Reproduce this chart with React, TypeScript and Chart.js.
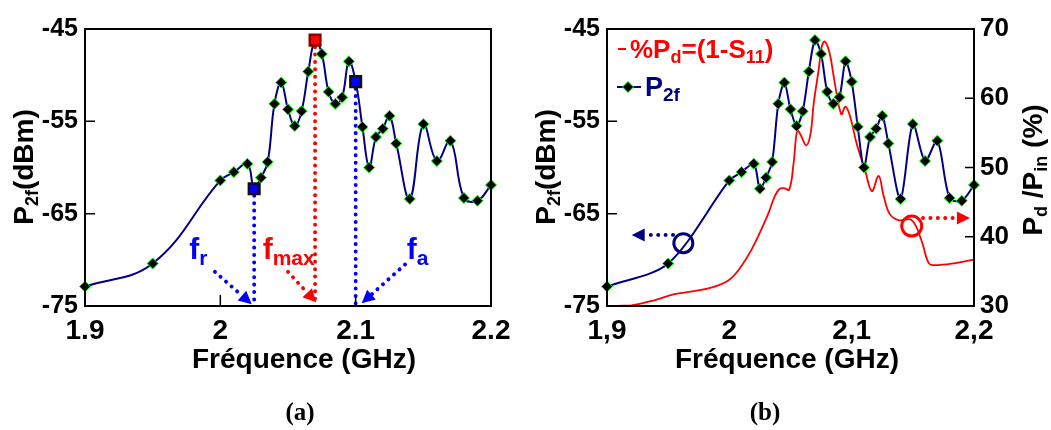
import React, { useEffect, useRef } from 'react';
import { Chart, registerables } from 'chart.js';
Chart.register(...registerables);

const FONT = '"Liberation Sans", Arial, sans-serif';
const SERIF = '"Liberation Serif", "Times New Roman", serif';

// ---------- data ----------
const freqGHz = [1.9, 1.95, 2.0, 2.01, 2.02, 2.025, 2.03, 2.035, 2.04, 2.045, 2.05, 2.055, 2.06, 2.065, 2.07, 2.075, 2.08, 2.085, 2.09, 2.095, 2.1, 2.105, 2.11, 2.115, 2.12, 2.125, 2.13, 2.14, 2.15, 2.16, 2.17, 2.18, 2.19, 2.2];
const p2fDbm = [-72.9, -70.4, -61.4, -60.5, -59.6, -62.3, -61.1, -59.4, -53.1, -50.8, -53.7, -55.5, -53.9, -49.6, -46.2, -47.7, -51.8, -53.1, -52.4, -48.5, -50.7, -55.6, -60.0, -56.7, -55.8, -54.4, -57.4, -63.4, -55.3, -59.3, -57.1, -63.3, -63.6, -61.9];

const pdFreqGHz = [1.9, 1.92, 1.94, 1.955, 1.97, 1.988, 2.0, 2.008, 2.018, 2.026, 2.032, 2.037, 2.041, 2.045, 2.049, 2.0525, 2.0555, 2.058, 2.063, 2.0665, 2.069, 2.073, 2.0755, 2.078, 2.082, 2.086, 2.0915, 2.095, 2.099, 2.104, 2.111, 2.1165, 2.122, 2.126, 2.131, 2.138, 2.149, 2.157, 2.163, 2.168, 2.185, 2.2];
const pdPercent = [30.0, 30.1, 30.9, 31.7, 32.1, 32.8, 33.8, 35.3, 38.1, 41.0, 43.4, 45.8, 46.9, 47.0, 46.8, 50.6, 55.4, 54.8, 53.2, 55.0, 59.3, 64.1, 67.4, 68.2, 66.5, 62.4, 57.7, 58.8, 57.2, 53.5, 49.6, 46.6, 48.8, 46.0, 43.3, 42.4, 42.4, 39.5, 36.2, 35.9, 36.2, 36.7];

const xTickValues = [1.9, 2.0, 2.1, 2.2];
const xTickLabelsA = ['1.9', '2', '2.1', '2.2'];
const xTickLabelsB = ['1,9', '2', '2,1', '2,2'];
const p2fTickValues = [-75, -65, -55, -45];
const pdTickValues = [30, 40, 50, 60, 70];

const fR = 2.025;
const fMax = 2.07;
const fA = 2.1;

const NAVY = '#000080';
const BLUE = '#0000ff';
const RED = '#ff0000';

// ---------- helpers ----------
type Part = { t: string; sub?: boolean };

function setFont(ctx: CanvasRenderingContext2D, size: number) {
  ctx.font = `bold ${size}px ${FONT}`;
}
function richWidth(ctx: CanvasRenderingContext2D, parts: Part[], size: number, subSize: number) {
  let w = 0;
  for (const p of parts) {
    setFont(ctx, p.sub ? subSize : size);
    w += ctx.measureText(p.t).width;
  }
  return w;
}
function drawRich(ctx: CanvasRenderingContext2D, parts: Part[], x: number, y: number, size: number, subSize: number, subDy: number, color: string, align: 'left' | 'center' = 'left') {
  const w = richWidth(ctx, parts, size, subSize);
  let cx = align === 'center' ? x - w / 2 : x;
  ctx.save();
  ctx.fillStyle = color;
  ctx.textAlign = 'left';
  ctx.textBaseline = 'alphabetic';
  for (const p of parts) {
    setFont(ctx, p.sub ? subSize : size);
    ctx.fillText(p.t, cx, p.sub ? y + subDy : y);
    cx += ctx.measureText(p.t).width;
  }
  ctx.restore();
}
function drawRichRotated(ctx: CanvasRenderingContext2D, parts: Part[], bx: number, cy: number, size: number, subSize: number, subDy: number, color: string) {
  ctx.save();
  ctx.translate(bx, cy);
  ctx.rotate(-Math.PI / 2);
  drawRich(ctx, parts, 0, 0, size, subSize, subDy, color, 'center');
  ctx.restore();
}
function dottedLine(ctx: CanvasRenderingContext2D, x1: number, y1: number, x2: number, y2: number, color: string, width = 3.9, gap = 7.3) {
  ctx.save();
  ctx.strokeStyle = color;
  ctx.lineWidth = width;
  ctx.lineCap = 'round';
  ctx.setLineDash([0.1, gap]);
  ctx.beginPath();
  ctx.moveTo(x1, y1);
  ctx.lineTo(x2, y2);
  ctx.stroke();
  ctx.restore();
}
function dottedArrow(ctx: CanvasRenderingContext2D, x1: number, y1: number, x2: number, y2: number, color: string) {
  const a = Math.atan2(y2 - y1, x2 - x1);
  const len = 13, half = 6.5;
  dottedLine(ctx, x1, y1, x2 - (len - 1) * Math.cos(a), y2 - (len - 1) * Math.sin(a), color);
  ctx.save();
  ctx.fillStyle = color;
  ctx.beginPath();
  ctx.moveTo(x2, y2);
  ctx.lineTo(x2 - len * Math.cos(a) + half * Math.sin(a), y2 - len * Math.sin(a) - half * Math.cos(a));
  ctx.lineTo(x2 - len * Math.cos(a) - half * Math.sin(a), y2 - len * Math.sin(a) + half * Math.cos(a));
  ctx.closePath();
  ctx.fill();
  ctx.restore();
}
function frameAndTicks(chart: any, leftTicks: number[], rightTicks: number[] | null, bottomTicks: number[]) {
  const { ctx, chartArea } = chart;
  const { left, right, top, bottom } = chartArea;
  ctx.save();
  ctx.strokeStyle = '#000';
  ctx.lineWidth = 2;
  ctx.strokeRect(left, top, right - left, bottom - top);
  ctx.lineWidth = 1.5;
  ctx.beginPath();
  const y = chart.scales.y;
  for (const v of leftTicks) {
    const py = y.getPixelForValue(v);
    if (Math.abs(py - top) < 2 || Math.abs(py - bottom) < 2) continue;
    ctx.moveTo(left, py);
    ctx.lineTo(left + 10, py);
  }
  if (rightTicks) {
    const y1 = chart.scales.y1;
    for (const v of rightTicks) {
      const py = y1.getPixelForValue(v);
      if (Math.abs(py - top) < 2 || Math.abs(py - bottom) < 2) continue;
      ctx.moveTo(right, py);
      ctx.lineTo(right - 9, py);
    }
  }
  const x = chart.scales.x;
  for (const v of bottomTicks) {
    const px = x.getPixelForValue(v);
    if (Math.abs(px - left) < 2 || Math.abs(px - right) < 2) continue;
    ctx.moveTo(px, bottom);
    ctx.lineTo(px, bottom - 11);
  }
  ctx.stroke();
  ctx.restore();
}

const tickFont = (size: number) => ({ family: FONT, size, weight: 'bold' as const });
const labelFor = (labels: string[]) => (v: any) => {
  const i = xTickValues.findIndex((t) => Math.abs(t - Number(v)) < 1e-9);
  return i >= 0 ? labels[i] : '';
};

const isSpecial = (f: number) => f === fR || f === fMax || f === fA;

function panelLabel(ctx: CanvasRenderingContext2D, text: string, x: number) {
  ctx.save();
  ctx.font = `bold 25px ${SERIF}`;
  ctx.fillStyle = '#000';
  ctx.textAlign = 'center';
  ctx.textBaseline = 'alphabetic';
  ctx.fillText(text, x, 420);
  ctx.restore();
}

// ---------- Panel A ----------
const panelAPlugin = {
  id: 'panelA',
  beforeDatasetsDraw(chart: any) {
    const { ctx, chartArea } = chart;
    const x = chart.scales.x, y = chart.scales.y;
    for (const f of [fR, fMax, fA]) {
      const i = freqGHz.indexOf(f);
      const px = x.getPixelForValue(f);
      dottedLine(ctx, px, y.getPixelForValue(p2fDbm[i]) + 7, px, chartArea.bottom, f === fMax ? RED : BLUE);
    }
  },
  afterDraw(chart: any) {
    const { ctx } = chart;
    const x = chart.scales.x, y = chart.scales.y;
    frameAndTicks(chart, p2fTickValues, null, xTickValues);
    drawRich(ctx, [{ t: 'Fréquence (GHz)' }], 304, 368, 28, 18, 5, '#000', 'center');
    drawRichRotated(ctx, [{ t: 'P' }, { t: '2f', sub: true }, { t: '(dBm)' }], 33, 167, 28, 18, 5, '#000');
    panelLabel(ctx, '(a)', 300);
    const X = (f: number) => x.getPixelForValue(f);
    const Y = (v: number) => y.getPixelForValue(v);
    drawRich(ctx, [{ t: 'f' }, { t: 'r', sub: true }], X(1.977), Y(-69.9), 30, 21, 6, BLUE);
    drawRich(ctx, [{ t: 'f' }, { t: 'max', sub: true }], X(2.0313), Y(-69.9), 30, 21, 6, RED);
    drawRich(ctx, [{ t: 'f' }, { t: 'a', sub: true }], X(2.1378), Y(-69.9), 30, 21, 6, BLUE);
    dottedArrow(ctx, X(1.996), Y(-71.3), X(2.0232), Y(-74.8), BLUE);
    dottedArrow(ctx, X(2.05), Y(-71.3), X(2.0707), Y(-74.6), RED);
    dottedArrow(ctx, X(2.1365), Y(-70.5), X(2.1045), Y(-74.7), BLUE);
  },
};

function PanelA() {
  const ref = useRef<HTMLCanvasElement>(null);
  useEffect(() => {
    const chart = new Chart(ref.current as HTMLCanvasElement, {
      type: 'line',
      data: {
        datasets: [
          {
            data: freqGHz.map((f, i) => ({ x: f, y: p2fDbm[i] })),
            borderColor: NAVY,
            borderWidth: 2,
            tension: 0.4,
            clip: false as any,
            pointStyle: (c: any) => (isSpecial(freqGHz[c.dataIndex]) ? 'rect' : 'rectRot'),
            pointRadius: (c: any) => (isSpecial(freqGHz[c.dataIndex]) ? 7.5 : 5.5),
            pointBackgroundColor: (c: any) => {
              const f = freqGHz[c.dataIndex];
              return f === fMax ? RED : f === fR || f === fA ? BLUE : '#000';
            },
            pointBorderColor: (c: any) => {
              const f = freqGHz[c.dataIndex];
              return f === fMax ? '#8b0000' : isSpecial(f) ? '#111' : '#00ff00';
            },
            pointBorderWidth: (c: any) => (isSpecial(freqGHz[c.dataIndex]) ? 2.5 : 1),
          } as any,
        ],
      },
      options: {
        responsive: false,
        animation: false,
        events: [],
        layout: { padding: { left: 0, top: 29, right: 29, bottom: 84 } },
        plugins: { legend: { display: false }, tooltip: { enabled: false } },
        scales: {
          x: {
            type: 'linear',
            min: 1.9,
            max: 2.2,
            afterBuildTicks: (s: any) => { s.ticks = xTickValues.map((v) => ({ value: v })); },
            afterFit: (s: any) => { s.height = 40; },
            ticks: { callback: labelFor(xTickLabelsA), font: tickFont(28), color: '#000', padding: 8, maxRotation: 0, autoSkip: false },
            grid: { display: false, drawTicks: false },
            border: { display: false },
          },
          y: {
            type: 'linear',
            min: -75,
            max: -45,
            afterBuildTicks: (s: any) => { s.ticks = p2fTickValues.map((v) => ({ value: v })); },
            afterFit: (s: any) => { s.width = 85; },
            ticks: { font: tickFont(25), color: '#000', padding: 7 },
            grid: { display: false, drawTicks: false },
            border: { display: false },
          },
        },
      } as any,
      plugins: [panelAPlugin],
    });
    return () => chart.destroy();
  }, []);
  return <canvas ref={ref} width={520} height={430} style={{ position: 'absolute', left: 0, top: 0, width: 520, height: 430 }} />;
}

// ---------- Panel B ----------
const panelBPlugin = {
  id: 'panelB',
  afterDraw(chart: any) {
    const { ctx, chartArea } = chart;
    const x = chart.scales.x, y = chart.scales.y, y1 = chart.scales.y1;
    frameAndTicks(chart, p2fTickValues, pdTickValues, []);
    drawRich(ctx, [{ t: 'Fréquence (GHz)' }], 267, 368, 28, 18, 5, '#000', 'center');
    drawRichRotated(ctx, [{ t: 'P' }, { t: '2f', sub: true }, { t: '(dBm)' }], 35, 167, 28, 18, 5, '#000');
    drawRichRotated(ctx, [{ t: 'P' }, { t: 'd', sub: true }, { t: ' /P' }, { t: 'in', sub: true }, { t: ' (%)' }], 522, 170, 28, 18, 5, '#000');
    panelLabel(ctx, '(b)', 245);

    // legend
    const L = chartArea.left;
    ctx.save();
    ctx.strokeStyle = RED;
    ctx.lineWidth = 2;
    ctx.beginPath();
    ctx.moveTo(L + 11, 49);
    ctx.lineTo(L + 19, 49);
    ctx.stroke();
    ctx.strokeStyle = NAVY;
    ctx.beginPath();
    ctx.moveTo(L + 10, 87);
    ctx.lineTo(L + 34, 87);
    ctx.stroke();
    ctx.fillStyle = '#000';
    ctx.strokeStyle = '#00ff00';
    ctx.lineWidth = 1;
    ctx.beginPath();
    const dx = L + 21, dy = 87, r = 5.5;
    ctx.moveTo(dx, dy - r); ctx.lineTo(dx + r, dy); ctx.lineTo(dx, dy + r); ctx.lineTo(dx - r, dy); ctx.closePath();
    ctx.fill(); ctx.stroke();
    ctx.restore();
    drawRich(ctx, [{ t: '%P' }, { t: 'd', sub: true }, { t: '=(1-S' }, { t: '11', sub: true }, { t: ')' }], L + 23, 58, 26, 18, 5, RED);
    drawRich(ctx, [{ t: 'P' }, { t: '2f', sub: true }], L + 38, 96, 27, 19, 5, NAVY);

    // axis indicators
    const X = (f: number) => x.getPixelForValue(f);
    ctx.save();
    ctx.lineWidth = 3;
    ctx.strokeStyle = NAVY;
    ctx.beginPath();
    ctx.arc(X(1.9624), y.getPixelForValue(-68.2), 9.5, 0, Math.PI * 2);
    ctx.stroke();
    ctx.strokeStyle = RED;
    ctx.beginPath();
    ctx.arc(X(2.1491), y1.getPixelForValue(41.55), 10, 0, Math.PI * 2);
    ctx.stroke();
    ctx.restore();
    dottedArrow(ctx, X(1.954), y.getPixelForValue(-67.3), X(1.9202), y.getPixelForValue(-67.3), NAVY);
    dottedArrow(ctx, X(2.1583), y1.getPixelForValue(42.7), X(2.1967), y1.getPixelForValue(42.7), RED);
  },
};

function PanelB() {
  const ref = useRef<HTMLCanvasElement>(null);
  useEffect(() => {
    const chart = new Chart(ref.current as HTMLCanvasElement, {
      type: 'line',
      data: {
        datasets: [
          {
            data: freqGHz.map((f, i) => ({ x: f, y: p2fDbm[i] })),
            yAxisID: 'y',
            borderColor: NAVY,
            borderWidth: 2,
            tension: 0.3,
            clip: false as any,
            pointStyle: 'rectRot',
            pointRadius: 5.5,
            pointBackgroundColor: '#000',
            pointBorderColor: '#00ff00',
            pointBorderWidth: 1,
          } as any,
          {
            data: pdFreqGHz.map((f, i) => ({ x: f, y: pdPercent[i] })),
            yAxisID: 'y1',
            borderColor: RED,
            borderWidth: 1.8,
            tension: 0.4,
            pointRadius: 0,
          } as any,
        ],
      },
      options: {
        responsive: false,
        animation: false,
        events: [],
        layout: { padding: { left: 0, top: 29, right: 0, bottom: 84 } },
        plugins: { legend: { display: false }, tooltip: { enabled: false } },
        scales: {
          x: {
            type: 'linear',
            min: 1.9,
            max: 2.2,
            afterBuildTicks: (s: any) => { s.ticks = xTickValues.map((v) => ({ value: v })); },
            afterFit: (s: any) => { s.height = 40; },
            ticks: { callback: labelFor(xTickLabelsB), font: tickFont(28), color: '#000', padding: 8, maxRotation: 0, autoSkip: false },
            grid: { display: false, drawTicks: false },
            border: { display: false },
          },
          y: {
            type: 'linear',
            position: 'left',
            min: -75,
            max: -45,
            afterBuildTicks: (s: any) => { s.ticks = p2fTickValues.map((v) => ({ value: v })); },
            afterFit: (s: any) => { s.width = 87; },
            ticks: { font: tickFont(25), color: '#000', padding: 7 },
            grid: { display: false, drawTicks: false },
            border: { display: false },
          },
          y1: {
            type: 'linear',
            position: 'right',
            min: 30,
            max: 70,
            afterBuildTicks: (s: any) => { s.ticks = pdTickValues.map((v) => ({ value: v })); },
            afterFit: (s: any) => { s.width = 77; },
            ticks: { font: tickFont(26), color: '#000', padding: 6 },
            grid: { display: false, drawTicks: false },
            border: { display: false },
          },
        },
      } as any,
      plugins: [panelBPlugin],
    });
    return () => chart.destroy();
  }, []);
  return <canvas ref={ref} width={531} height={430} style={{ position: 'absolute', left: 520, top: 0, width: 531, height: 430 }} />;
}

export default function App() {
  return (
    <div style={{ position: 'absolute', left: 0, top: 0, width: 1051, height: 430, background: '#fff', overflow: 'hidden' }}>
      <PanelA />
      <PanelB />
    </div>
  );
}
